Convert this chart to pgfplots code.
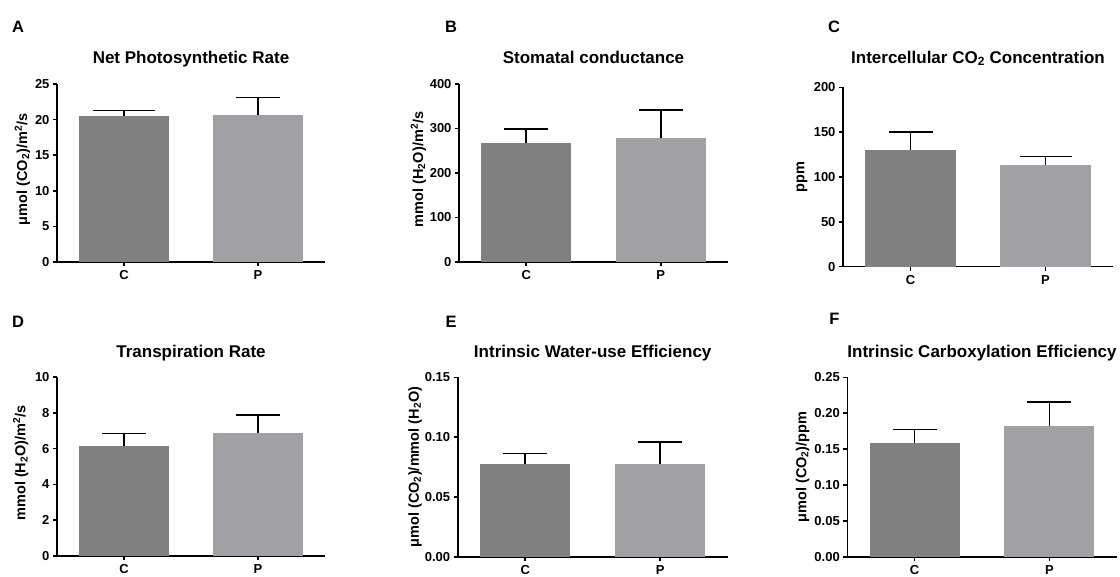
\documentclass[border=0pt]{standalone}
\usepackage{fontspec}
\setmainfont{Liberation Sans}
\usepackage{pgfplots}
\pgfplotsset{compat=1.18}

\definecolor{barC}{HTML}{808080}
\definecolor{barP}{HTML}{A1A0A5}

\pgfplotsset{
  panel/.style={
    scale only axis, width=268pt, height=178pt,
    anchor=south west,
    axis lines=left, axis line style={-, line width=1.6pt},
    xmin=-0.5, xmax=1.5, xtick={0,1}, xticklabels={C,P},
    ymin=0,
    tick align=outside, major tick length=4pt,
    every tick/.style={black, line width=1.6pt},
    tick label style={font=\bfseries\fontsize{13}{15}\selectfont},
    xticklabel style={yshift=-1pt},
    /pgf/number format/assume math mode=true,
    title style={font=\bfseries\fontsize{17}{20}\selectfont,
      at={(axis description cs:0.5,1)}, anchor=base, yshift=14pt},
    every axis y label/.style={rotate=90, anchor=center,
      font=\bfseries\fontsize{14.5}{17}\selectfont},
    clip=false,
  },
  cbar/.style={ybar, bar width=0.67, fill=barC, draw=none},
  pbar/.style={ybar, bar width=0.67, fill=barP, draw=none},
  errs/.style={error bars/.cd, y dir=plus, y explicit,
    error bar style={black, line width=1.6pt},
    error mark options={black, line width=1.6pt, rotate=90, mark size=#1}},
  errs/.default=22pt,
}

\begin{document}
\begin{tikzpicture}
\useasboundingbox (0,0) rectangle (1120pt,-577pt);

% A
\begin{axis}[panel, at={(57pt,-262pt)},
  title={Net Photosynthetic Rate},
  ymax=25, ytick={0,5,...,25},
  ylabel={μmol (CO\textsubscript{2})/m\textsuperscript{2}/s},
  ylabel style={at={(axis description cs:-0.129,0.52)}}]
\addplot[cbar, errs=31pt] coordinates {(0,20.5) +- (0,0.8)};
\addplot[pbar, errs] coordinates {(1,20.6) +- (0,2.5)};
\end{axis}

% B
\begin{axis}[panel, at={(459pt,-262pt)}, width=269pt,
  title={Stomatal conductance},
  ymax=400, ytick={0,100,...,400},
  ylabel={mmol (H\textsubscript{2}O)/m\textsuperscript{2}/s},
  ylabel style={at={(axis description cs:-0.151,0.52)}}]
\addplot[cbar, errs] coordinates {(0,268) +- (0,31)};
\addplot[pbar, errs] coordinates {(1,278) +- (0,63)};
\end{axis}

% C
\begin{axis}[panel, at={(843pt,-266.7pt)}, width=270pt, height=179.4pt,
  title={Intercellular CO\textsubscript{2} Concentration},
  title style={yshift=4pt},
  ymax=200, ytick={0,50,...,200},
  ylabel={ppm},
  ylabel style={at={(axis description cs:-0.152,0.5)}}]
\addplot[cbar, errs] coordinates {(0,130.5) +- (0,20)};
\addplot[pbar, errs=26pt] coordinates {(1,113.7) +- (0,9.3)};
\end{axis}

% D
\begin{axis}[panel, at={(57pt,-555.7pt)}, height=178.4pt,
  title={Transpiration Rate},
  ymax=10, ytick={0,2,...,10},
  ylabel={mmol (H\textsubscript{2}O)/m\textsuperscript{2}/s},
  ylabel style={at={(axis description cs:-0.135,0.52)}}]
\addplot[cbar, errs] coordinates {(0,6.13) +- (0,0.73)};
\addplot[pbar, errs] coordinates {(1,6.89) +- (0,0.98)};
\end{axis}

% E
\begin{axis}[panel, at={(457.7pt,-556.7pt)}, width=270pt, height=179.4pt,
  title={Intrinsic Water-use Efficiency},
  ymax=0.15, ytick={0,0.05,0.10,0.15},
  yticklabel style={/pgf/number format/.cd, fixed, fixed zerofill, precision=2},
  ylabel={μmol (CO\textsubscript{2})/mmol (H\textsubscript{2}O)},
  ylabel style={at={(axis description cs:-0.158,0.5)}}]
\addplot[cbar, errs] coordinates {(0,0.0772) +- (0,0.009)};
\addplot[pbar, errs] coordinates {(1,0.0772) +- (0,0.0187)};
\end{axis}

% F
\begin{axis}[panel, at={(847.3pt,-556.7pt)}, width=269.4pt, height=179.4pt,
  title={Intrinsic Carboxylation Efficiency},
  ymax=0.25, ytick={0,0.05,...,0.25},
  yticklabel style={/pgf/number format/.cd, fixed, fixed zerofill, precision=2},
  ylabel={μmol (CO\textsubscript{2})/ppm},
  ylabel style={at={(axis description cs:-0.166,0.5)}}]
\addplot[cbar, errs] coordinates {(0,0.159) +- (0,0.0185)};
\addplot[pbar, errs] coordinates {(1,0.1817) +- (0,0.034)};
\end{axis}

\begin{scope}[font=\bfseries\fontsize{16.5}{19}\selectfont]
\node at (18pt,-27pt) {A};
\node at (451pt,-27pt) {B};
\node at (834pt,-27pt) {C};
\node at (18pt,-321.5pt) {D};
\node at (451pt,-322pt) {E};
\node at (834.5pt,-318.5pt) {F};
\end{scope}
\end{tikzpicture}
\end{document}
